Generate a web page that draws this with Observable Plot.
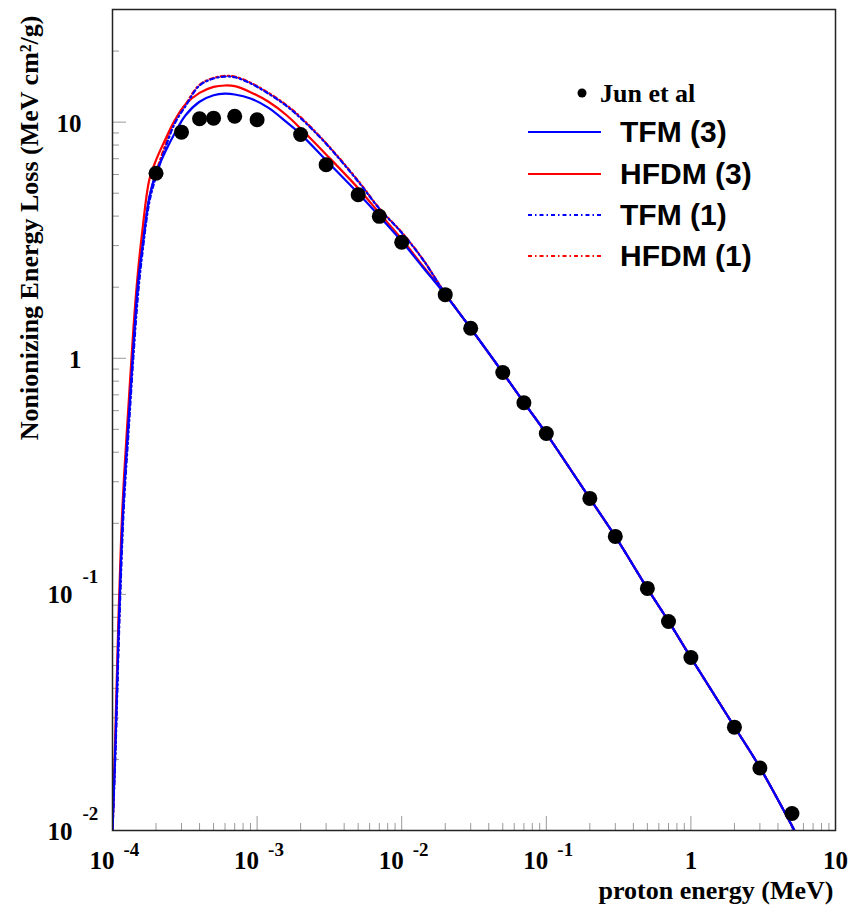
<!DOCTYPE html>
<html>
<head>
<meta charset="utf-8">
<script src="https://cdn.jsdelivr.net/npm/d3@7"></script>
<script src="https://cdn.jsdelivr.net/npm/@observablehq/plot@0.6"></script>
<style>
  html, body { margin: 0; padding: 0; background: #fff; }
</style>
</head>
<body>
<div id="chart"></div>
<script>
// ---- Data ----
const energy = [1.0e-4, 1.05e-4, 1.1e-4, 1.15e-4, 1.2e-4, 1.3e-4, 1.4e-4, 1.5e-4, 1.6e-4, 1.8e-4,
  2.0e-4, 2.3e-4, 2.7e-4, 3.2e-4, 4e-4, 5e-4, 6e-4, 7e-4, 9e-4, 1.2e-3, 1.6e-3, 2e-3, 3e-3,
  5e-3, 7e-3, 1e-2, 1.4e-2, 2e-2, 3e-2, 5e-2, 7e-2, 0.1, 0.2, 0.3, 0.5, 0.7, 1, 2, 3, 5.2];

const tfm3 = [0.01, 0.024, 0.068, 0.151, 0.27, 0.58, 1.17, 2.07, 2.88, 4.83,
  6.1, 7.42, 9.0, 10.7, 12.2, 13.0, 13.2, 13.1, 12.6, 11.5, 10.0, 8.9, 6.9,
  5.0, 4.0, 3.13, 2.43, 1.86, 1.34, 0.87, 0.65, 0.48, 0.255, 0.176, 0.106, 0.077, 0.054, 0.0275, 0.0185, 0.01];

const hfdm3 = [0.01, 0.028, 0.08, 0.18, 0.31, 0.68, 1.38, 2.32, 3.37, 5.73,
  6.9, 8.36, 10.2, 11.9, 13.3, 14.1, 14.3, 14.2, 13.4, 12.2, 10.7, 9.4, 7.3,
  5.25, 4.12, 3.2, 2.46, 1.87, 1.34, 0.87, 0.65, 0.48, 0.255, 0.176, 0.106, 0.077, 0.054, 0.0275, 0.0185, 0.01];

const tfm1 = [0.01, 0.022, 0.058, 0.13, 0.24, 0.52, 1.05, 1.85, 2.7, 4.6,
  5.88, 7.65, 9.9, 11.7, 14.3, 15.3, 15.6, 15.5, 14.6, 13.2, 11.7, 10.4, 8.1,
  5.6, 4.3, 3.4, 2.62, 1.88, 1.34, 0.87, 0.65, 0.48, 0.255, 0.176, 0.106, 0.077, 0.054, 0.0275, 0.0185, 0.01];

const hfdm1 = [0.01, 0.024, 0.064, 0.145, 0.26, 0.57, 1.12, 1.95, 2.85, 4.8,
  6.1, 7.9, 10.1, 11.9, 14.4, 15.4, 15.7, 15.6, 14.7, 13.3, 11.8, 10.5, 8.15,
  5.65, 4.32, 3.42, 2.63, 1.88, 1.34, 0.87, 0.65, 0.48, 0.255, 0.176, 0.106, 0.077, 0.054, 0.0275, 0.0185, 0.01];

const junEnergy = [2e-4, 3e-4, 4e-4, 5e-4, 7e-4, 1e-3, 2e-3, 3e-3, 5e-3, 7e-3, 1e-2,
  2e-2, 3e-2, 5e-2, 7e-2, 0.1, 0.2, 0.3, 0.5, 0.7, 1, 2, 3, 5];
const junLoss = [6.08, 9.07, 10.34, 10.4, 10.6, 10.24, 8.87, 6.6, 4.93, 3.99, 3.1,
  1.86, 1.34, 0.87, 0.648, 0.48, 0.255, 0.176, 0.106, 0.0768, 0.054, 0.0274, 0.0184, 0.0118];

const seriesNames = ["TFM (3)", "HFDM (3)", "TFM (1)", "HFDM (1)"];
const seriesColors = ["#0000ff", "#ff0000", "#0000ff", "#ff0000"];
const seriesDash = [null, null, "4,3,1.5,3", "4,3,1.5,3"];

// tick labels
const xTickValues = [1e-4, 1e-3, 1e-2, 1e-1, 1, 10];
const xTickBase = ["10", "10", "10", "10", "1", "10"];
const xTickExp = ["-4", "-3", "-2", "-1", "", ""];
const yTickValues = [0.01, 0.1, 1, 10];
const yTickBase = ["10", "10", "1", "10"];
const yTickExp = ["-2", "-1", "", ""];

const xTitle = "proton energy (MeV)";
const yTitle = "Nonionizing Energy Loss (MeV cm²/g)";
const legendPointLabel = "Jun et al";

// ---- build tables ----
const seriesValues = [tfm3, hfdm3, tfm1, hfdm1];
const curveRows = seriesValues.map(vals => energy.map((E, i) => ({E, v: vals[i]})));
const junRows = junEnergy.map((E, i) => ({E, v: junLoss[i]}));

const xMinor = [];
for (let k = -4; k <= 0; k++) for (let m = 2; m <= 9; m++) xMinor.push(m * Math.pow(10, k));
const yMinor = [];
for (let k = -2; k <= 0; k++) for (let m = 2; m <= 9; m++) yMinor.push(m * Math.pow(10, k));
yMinor.push(20, 30);

const xLab = xTickValues.map((v, i) => ({v, b: xTickBase[i], e: xTickExp[i]}));
const yLab = yTickValues.map((v, i) => ({v, b: yTickBase[i], e: yTickExp[i]}));

const serif = "'Liberation Serif', 'Times New Roman', serif";
const sans = "'Liberation Sans', Arial, sans-serif";

function lineMark(idx) {
  return Plot.line(curveRows[idx], {
    x: "E", y: "v",
    stroke: seriesColors[idx],
    strokeWidth: 2.2,
    strokeDasharray: seriesDash[idx] || undefined,
    curve: "catmull-rom",
    clip: true
  });
}

const chart = Plot.plot({
  width: 852,
  height: 909,
  marginLeft: 112,
  marginRight: 17,
  marginTop: 9,
  marginBottom: 79,
  style: {background: "#fff", fontFamily: serif, color: "#000"},
  x: {type: "log", domain: [1e-4, 10]},
  y: {type: "log", domain: [0.01, 30]},
  marks: [
    Plot.axisX(xMinor, {anchor: "bottom", tickSize: -7, tickFormat: () => "", stroke: "#999", label: null}),
    Plot.axisX(xTickValues, {anchor: "bottom", tickSize: -14, tickFormat: () => "", stroke: "#999", label: null}),
    Plot.axisY(yMinor, {anchor: "left", tickSize: -7, tickFormat: () => "", stroke: "#999", label: null}),
    Plot.axisY(yTickValues, {anchor: "left", tickSize: -14, tickFormat: () => "", stroke: "#999", label: null}),
    // x tick labels
    Plot.text(xLab.filter(d => d.e), {x: "v", text: "b", frameAnchor: "bottom", textAnchor: "end", lineAnchor: "bottom", dx: 2, dy: 38, fontSize: 25, fontWeight: "bold", fill: "#000"}),
    Plot.text(xLab.filter(d => d.e), {x: "v", text: "e", frameAnchor: "bottom", textAnchor: "start", lineAnchor: "bottom", dx: 11, dy: 25, fontSize: 19, fontWeight: "bold", fill: "#000"}),
    Plot.text(xLab.filter(d => !d.e), {x: "v", text: "b", frameAnchor: "bottom", textAnchor: "middle", lineAnchor: "bottom", dy: 38, fontSize: 25, fontWeight: "bold", fill: "#000"}),
    // y tick labels
    Plot.text(yLab.filter(d => d.e), {y: "v", text: "b", frameAnchor: "left", textAnchor: "end", lineAnchor: "bottom", dx: -40, dy: 9, fontSize: 25, fontWeight: "bold", fill: "#000"}),
    Plot.text(yLab.filter(d => d.e), {y: "v", text: "e", frameAnchor: "left", textAnchor: "start", lineAnchor: "bottom", dx: -30, dy: -11, fontSize: 19, fontWeight: "bold", fill: "#000"}),
    Plot.text(yLab.filter(d => !d.e), {y: "v", text: "b", frameAnchor: "left", textAnchor: "end", lineAnchor: "bottom", dx: -31, dy: 10, fontSize: 25, fontWeight: "bold", fill: "#000"}),
    // axis titles
    Plot.text([xTitle], {text: d => d, frameAnchor: "bottom-right", textAnchor: "end", lineAnchor: "bottom", dx: -2, dy: 68, fontSize: 26, fontWeight: "bold", fill: "#000"}),
    Plot.text([yTitle], {text: d => d, frameAnchor: "top-left", textAnchor: "end", lineAnchor: "bottom", rotate: -90, dx: -75, dy: 6, fontSize: 26, fontWeight: "bold", fill: "#000"}),
    // curves
    lineMark(1),
    lineMark(3),
    lineMark(2),
    lineMark(0),
    // data points
    Plot.dot(junRows, {x: "E", y: "v", r: 7.5, fill: "#000", stroke: "none"}),
    Plot.frame({stroke: "#222", strokeWidth: 1.5})
  ]
});

// ---- legend (inside plot area) ----
const svg = d3.select(chart);
const lg = svg.append("g").attr("class", "legend").attr("text-anchor", "start");
lg.append("circle").attr("cx", 582).attr("cy", 93).attr("r", 4.5).attr("fill", "#000");
lg.append("text").attr("x", 600).attr("y", 102).attr("text-anchor", "start")
  .attr("font-family", serif).attr("font-weight", "bold").attr("font-size", 26)
  .attr("fill", "#000").text(legendPointLabel);
const legY = [132, 174, 215, 256];
seriesNames.forEach((name, i) => {
  lg.append("line").attr("x1", 528).attr("x2", 601).attr("y1", legY[i]).attr("y2", legY[i])
    .attr("stroke", seriesColors[i]).attr("stroke-width", 2.2)
    .attr("stroke-dasharray", seriesDash[i]);
  lg.append("text").attr("x", 620).attr("y", legY[i] + 10).attr("text-anchor", "start")
    .attr("font-family", sans).attr("font-weight", "bold").attr("font-size", 30)
    .attr("fill", "#000").text(name);
});

document.getElementById("chart").appendChild(chart);
</script>
</body>
</html>
